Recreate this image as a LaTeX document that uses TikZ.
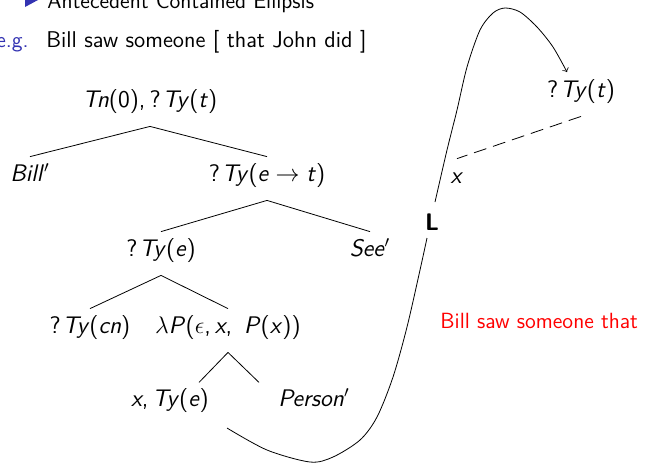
\documentclass[tikz,border=0pt]{standalone}
\usepackage{amsmath}
\usetikzlibrary{calc}
\renewcommand{\familydefault}{\sfdefault}
\definecolor{structblue}{rgb}{0.2,0.2,0.7}

\begin{document}
\begin{tikzpicture}[x=0.5pt, y=-0.5pt, thin,
  font=\fontsize{11}{13}\selectfont,
  lbl/.style={anchor=base, inner xsep=2pt, inner ysep=4pt,
    text height=8pt, text depth=5.5pt, font=\fontsize{12}{14}\selectfont},
  txt/.style={anchor=base west, inner sep=0pt},
  linkdash/.style={dash pattern=on 6.5pt off 3.5pt}]
  \useasboundingbox (0,0) rectangle (667,463);
  \clip (0,0) rectangle (667,463);
  % Kopfzeile
  \fill[structblue] (25,-7) -- (38,0) -- (25,7) -- cycle;
  \node[txt] (ace) at (47,8) {Antecedent Contained Ellipsis};
  \node[txt, anchor=base east, text=structblue] (eg) at (29,47) {e.g.};
  \node[txt, font=\fontsize{11.4}{13}\selectfont] (sent) at (46,47)
    {Bill saw someone [ that John did ]};
  % Baum
  \node[lbl] (tn) at (150,107) {\textit{Tn}(0),\,?\kern1pt\textit{Ty}(\textit{t})};
  \node[lbl] (bill) at (30,181) {\textit{Bill}$'$};
  \node[lbl] (tyet) at (267,181) {?\kern1pt\textit{Ty}(\textit{e}\;$\to$\;\textit{t})};
  \node[lbl] (tye) at (161,256) {?\kern1pt\textit{Ty}(\textit{e})};
  \node[lbl] (see) at (370,256) {\textit{See}$'$};
  \node[lbl] (tycn) at (90,333) {?\kern1pt\textit{Ty}(\textit{cn})};
  \node[lbl] (lam) at (228,333)
    {$\lambda$\textit{P}($\epsilon$,\,\textit{x},\enspace\textit{P}(\textit{x}))};
  \node[lbl] (xte) at (170,406) {\textit{x},\kern2pt\textit{Ty}(\textit{e})};
  \node[lbl] (person) at (314,406) {\textit{Person}$'$};
  \draw (tn.south) -- (bill.north);
  \draw (tn.south) -- (tyet.north);
  \draw (tyet.south) -- (tye.north);
  \draw (tyet.south) -- (see.north);
  \draw (tye.south) -- (tycn.north);
  \draw (tye.south) -- (lam.north);
  \draw (lam.south) -- ++(-29,30);
  \draw (lam.south) -- ++(31,30);
  % verlinkter Baum
  \node[lbl] (tyt) at (581,97) {?\kern1pt\textit{Ty}(\textit{t})};
  \node[lbl] (xr) at (457,183) {\textit{x}};
  \draw[linkdash] (tyt.south) -- (xr.north);
  \node[lbl] (link) at (432,230) {\textbf{L}};
  \coordinate (cstart) at (227,428);
  \coordinate (cend) at (567,72);
  \draw plot[smooth] coordinates {(cstart) (267,450) (310,462) (333,457)
    (360,440) (377,417) (393,377) (407,327) (420,270) (427,238)};
  \draw[->] plot[smooth] coordinates {(435,202) (447,150) (457,110)
    (467,67) (480,30) (493,13) (505,8) (520,12) (537,27) (553,47) (cend)};
  \node[txt, text=red] (gloss) at (440,328) {Bill saw someone that};
\end{tikzpicture}
\end{document}
